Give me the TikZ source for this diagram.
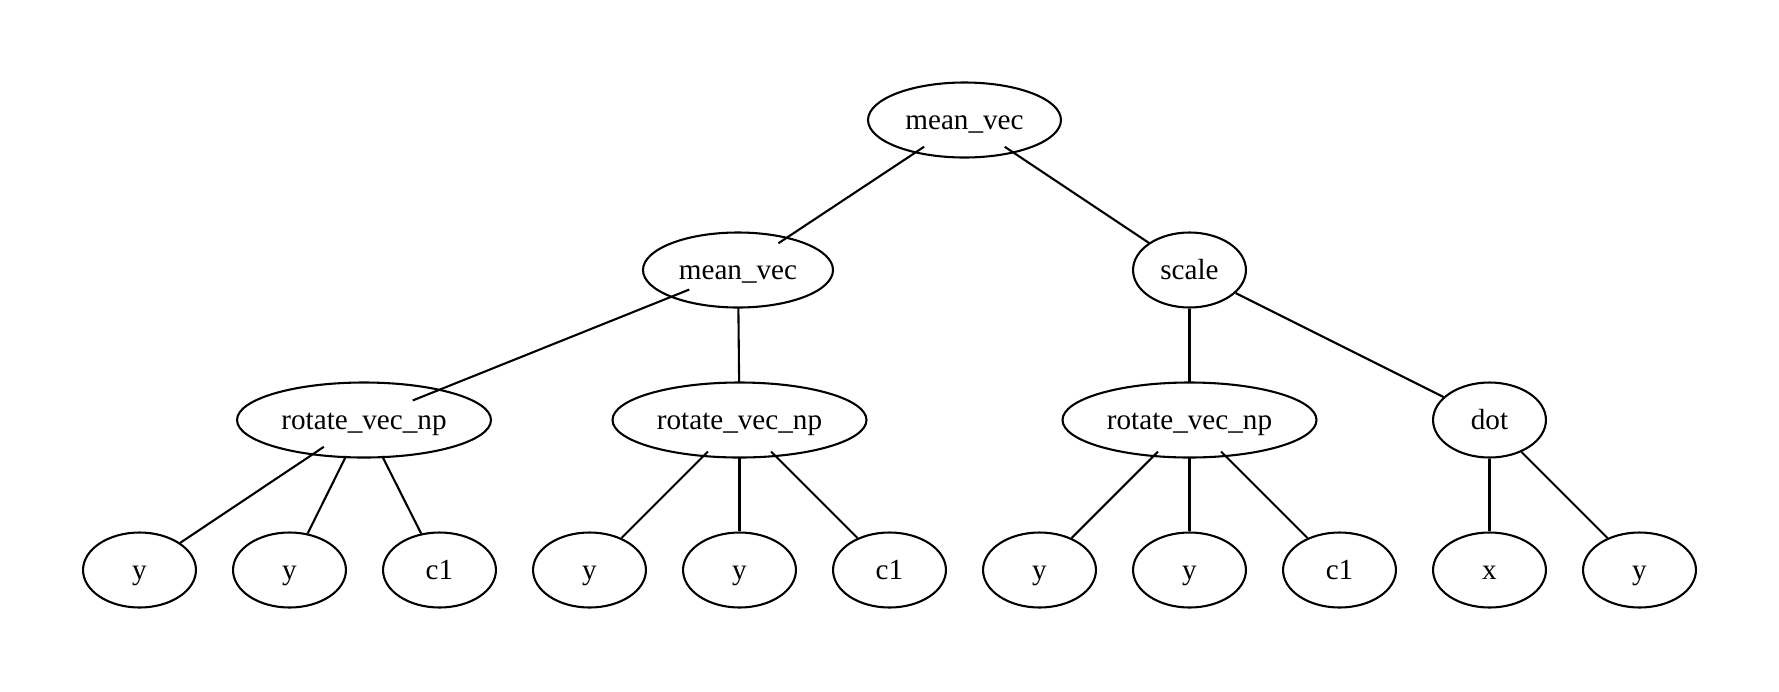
\documentclass[tikz,border=0pt]{standalone}
\usepackage{fontspec}
\setmainfont{Liberation Serif}
\usetikzlibrary{shapes.geometric}
\tikzset{
  every picture/.style={x=0.48pt,y=-0.48pt},
  gnode/.style={ellipse,draw,line width=1pt,inner sep=0pt,text height=9pt,text depth=0pt,font=\fontsize{14pt}{16pt}\selectfont},
  leaf/.style={gnode,minimum width=54.2pt,minimum height=36pt},
  wide/.style={gnode,minimum width=#1,minimum height=36pt},
  clipper/.style={ellipse,inner sep=0pt,minimum width=54.2pt,minimum height=36pt},
  edge/.style={line width=1pt}
}
\begin{document}
\begin{tikzpicture}
\useasboundingbox (0,0) rectangle (1779,691);
% upper nodes
\node[wide=92.6pt] (root) at (964.5,120) {mean\_vec};
\node[wide=91.2pt] (m2) at (738,270) {mean\_vec};
\node[leaf] (scale) at (1189.5,270) {scale};
\node[wide=121.9pt] (r1) at (364,420) {rotate\_vec\_np};
\node[wide=121.9pt] (r2) at (739.5,420) {rotate\_vec\_np};
\node[wide=121.9pt] (r3) at (1189.5,420) {rotate\_vec\_np};
\node[leaf] (dot) at (1489.5,420) {dot};
% clipping helpers
\node[clipper] (rootc) at (root.center) {};
\node[clipper] (m2c) at (m2.center) {};
\node[clipper] (r1c) at (r1.center) {};
\node[clipper] (r2c) at (r2.center) {};
\node[clipper] (r3c) at (r3.center) {};
% leaves
\node[leaf] (l0) at (139.5,570) {y};
\node[leaf] (l1) at (289.5,570) {y};
\node[leaf] (l2) at (439.5,570) {c1};
\node[leaf] (l3) at (589.5,570) {y};
\node[leaf] (l4) at (739.5,570) {y};
\node[leaf] (l5) at (889.5,570) {c1};
\node[leaf] (l6) at (1039.5,570) {y};
\node[leaf] (l7) at (1189.5,570) {y};
\node[leaf] (l8) at (1339.5,570) {c1};
\node[leaf] (l9) at (1489.5,570) {x};
\node[leaf] (l10) at (1639.5,570) {y};
% edges
\draw[edge] (rootc) -- (m2c);
\draw[edge] (rootc) -- (scale);
\draw[edge] (m2c) -- (r1c);
\draw[edge] (m2c) -- (r2c);
\draw[edge] (scale) -- (r3c);
\draw[edge] (scale) -- (dot);
\draw[edge] (r1c) -- (l0);
\draw[edge] (r1c) -- (l1);
\draw[edge] (r1c) -- (l2);
\draw[edge] (r2c) -- (l3);
\draw[edge] (r2c) -- (l4);
\draw[edge] (r2c) -- (l5);
\draw[edge] (r3c) -- (l6);
\draw[edge] (r3c) -- (l7);
\draw[edge] (r3c) -- (l8);
\draw[edge] (dot) -- (l9);
\draw[edge] (dot) -- (l10);
\end{tikzpicture}
\end{document}
